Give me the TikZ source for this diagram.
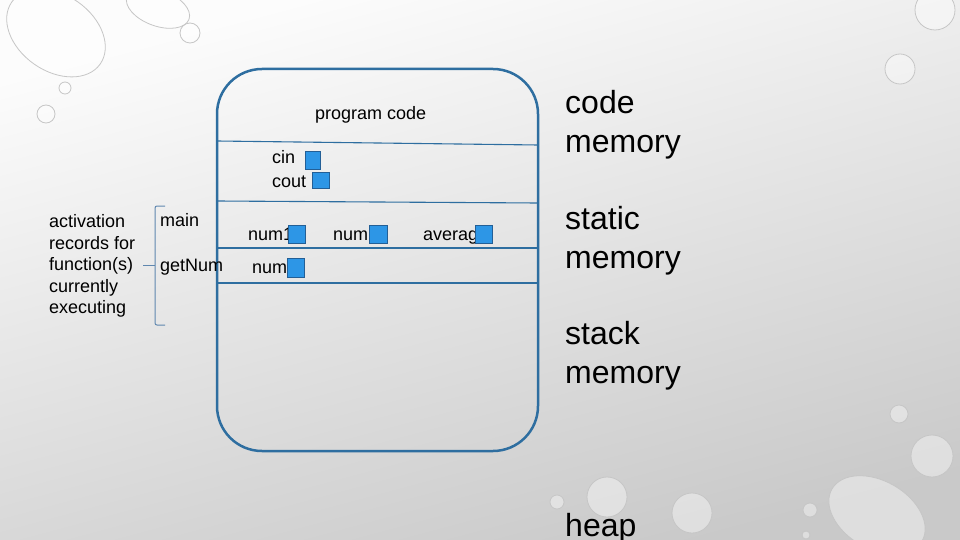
\documentclass[tikz,border=0pt]{standalone}
\usepackage{fontspec}
\setmainfont{Liberation Sans}
\definecolor{memblue}{RGB}{46,110,160}
\definecolor{varfill}{RGB}{45,150,230}
\definecolor{varedge}{RGB}{35,95,150}
\definecolor{bracecol}{RGB}{95,135,175}
\tikzset{
  small/.style={inner sep=0pt, anchor=base west, font=\fontsize{18}{21.5}\selectfont},
  block/.style={inner sep=0pt, anchor=west, font=\fontsize{18}{21.5}\selectfont, align=left},
  big/.style={inner sep=0pt, anchor=west, font=\fontsize{32}{39}\selectfont, align=left},
  var/.style={draw=varedge, fill=varfill, line width=1pt, minimum width=17pt, minimum height=17pt, inner sep=0pt},
  drop/.style={draw=gray!45, line width=0.8pt, fill=white, fill opacity=0.4},
  part/.style={memblue, line width=1.1pt}
}
\begin{document}
\begin{tikzpicture}[x=1pt,y=-1pt]
\useasboundingbox (0,0) rectangle (960,540);
\shade[top color=gray!2, bottom color=gray!42, shading angle=15] (0,0) rectangle (960,540);
% water drops
\draw[drop, rotate around={-35:(56,33)}] (56,33) ellipse (54 and 38);
\draw[drop, rotate around={-20:(158,8)}] (158,8) ellipse (33 and 18);
\draw[drop] (190,33) circle (10);
\draw[drop] (65,88) circle (6);
\draw[drop] (46,114) circle (9);
\draw[drop] (900,69) circle (15);
\draw[drop] (935,10) circle (20);
\draw[drop] (899,414) circle (9);
\draw[drop] (932,456) circle (21);
\draw[drop, rotate around={-30:(877,515)}] (877,515) ellipse (52 and 34);
\draw[drop] (810,510) circle (7);
\draw[drop] (806,535) circle (4);
\draw[drop] (692,513) circle (20);
\draw[drop] (607,497) circle (20);
\draw[drop] (557,502) circle (7);
% memory box
\node[draw=memblue, line width=2.5pt, rounded corners=45pt, minimum width=321pt, minimum height=382pt] (mem) at (377.5,260) {};
\draw[part] (217,141) -- (538,145);
\draw[part] (217,201) -- (538,203);
\draw[part] (217,248) -- (538,248);
\draw[part] (217,283) -- (538,283);
\node[small] (prog) at (315,120) {program code};
\node[small] (cin) at (272,164) {cin};
\node[var, minimum width=15pt, minimum height=18pt] (cinv) at (312.5,161) {};
\node[small] (cout) at (272,187) {cout};
\node[var, minimum height=16pt] (coutv) at (320.5,180.5) {};
\node[small] (num1) at (248,240) {num1};
\node[var, minimum height=18pt] (num1v) at (296.5,234) {};
\node[small] (num2) at (333,240) {num};
\node[var, minimum width=18pt, minimum height=18pt] (num2v) at (378.5,234) {};
\node[small] (avg) at (423,240) {averag};
\node[var, minimum height=18pt] (avgv) at (483.5,234) {};
\node[small] (num3) at (252,273) {num};
\node[var, minimum height=19pt] (num3v) at (296,267.5) {};
% activation records
\node[block] (act) at (49,266) {activation\\records for\\function(s)\\currently\\executing};
\node[small] (mainf) at (160,226) {main};
\node[small] (getnum) at (160,271) {getNum};
\coordinate (bracetip) at (143,265);
\draw[bracecol, line width=1pt, rounded corners=2pt] (165,206) -- (155,206) -- (155,325) -- (165,325);
\draw[bracecol, line width=1pt] (155,265) -- (bracetip);
% memory kinds
\node[big] (codem) at (565,125) {code\\memory};
\node[big] (staticm) at (565,240.5) {static\\memory};
\node[big] (stackm) at (565,355.5) {stack\\memory};
\node[big] (heapm) at (565,528) {heap};
\end{tikzpicture}
\end{document}
